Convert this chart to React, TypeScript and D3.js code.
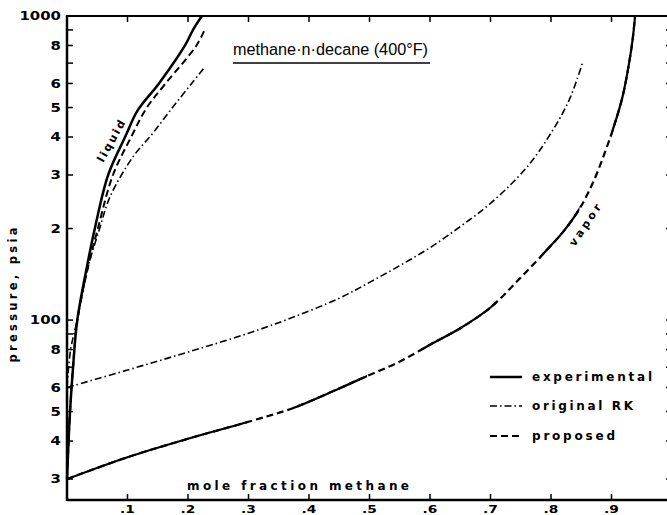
import React from 'react';
import * as d3 from 'd3';

const W = 667;
const H = 515;

// axis ticks
const xTickValues = [0.1, 0.2, 0.3, 0.4, 0.5, 0.6, 0.7, 0.8, 0.9];
const xTickLabels = ['.1', '.2', '.3', '.4', '.5', '.6', '.7', '.8', '.9'];
const yTickValues = [30, 40, 50, 60, 70, 80, 90, 100, 200, 300, 400, 500, 600, 700, 800, 900, 1000];
const yLabelValues = [30, 40, 50, 60, 80, 100, 200, 300, 400, 500, 600, 800, 1000];
const yLabelTexts = ['3', '4', '5', '6', '8', '100', '2', '3', '4', '5', '6', '8', '1000'];

// liquid (bubble point) curves
const liqExpX = [0, 0.005, 0.01, 0.017, 0.033, 0.046, 0.068, 0.096, 0.117, 0.152, 0.195, 0.209, 0.223];
const liqExpP = [30, 50, 70, 100, 150, 200, 300, 400, 490, 600, 800, 906, 1000];
const liqPropX = [0, 0.005, 0.01, 0.017, 0.035, 0.051, 0.076, 0.106, 0.132, 0.163, 0.214, 0.228];
const liqPropP = [30, 50, 70, 100, 150, 200, 300, 400, 500, 600, 800, 906];
const liqRkX = [0, 0.006, 0.017, 0.035, 0.054, 0.071, 0.109, 0.142, 0.175, 0.206, 0.228];
const liqRkP = [60, 80, 100, 150, 200, 254, 344, 412, 502, 600, 680];

// vapor (dew point) curves: experimental & proposed coincide
const vapX = [0, 0.1, 0.2, 0.3, 0.373, 0.45, 0.5, 0.55, 0.6, 0.65, 0.7, 0.75, 0.793, 0.82, 0.847, 0.87, 0.89, 0.905, 0.918, 0.928, 0.935, 0.939];
const vapP = [30, 35.4, 40.7, 46.3, 51.3, 59.6, 66, 73, 83, 94, 110, 138, 170, 195, 232, 285, 360, 440, 540, 680, 840, 1000];
// x-ranges where the experimental (solid) vapor curve is visible
const vapExpRanges: [number, number][] = [[0, 0.3], [0.373, 0.496], [0.583, 0.711], [0.782, 0.847], [0.9, 1]];
const vapRkX = [0, 0.1, 0.2, 0.3, 0.37, 0.45, 0.5, 0.55, 0.6, 0.65, 0.7, 0.76, 0.8, 0.83, 0.852];
const vapRkP = [60, 68.5, 78.5, 90.5, 101.5, 118, 133, 151, 173, 203, 242, 318, 412, 529, 700];

const legendLabels = ['experimental', 'original RK', 'proposed'];

const L = 67, R = 672, T = 16, B = 500;
const x = d3.scaleLinear().domain([0, 1]).range([L, R]);
const y = d3.scaleLog().domain([25.6, 1000]).range([B, T]);

const line = d3
  .line<[number, number]>()
  .x((d) => x(d[0]))
  .y((d) => y(d[1]))
  .curve(d3.curveCatmullRom.alpha(0.5));

const zip = (a: number[], b: number[]) => a.map((v, i) => [v, b[i]] as [number, number]);

const SOLID = { stroke: '#000', fill: 'none', strokeWidth: 2.3, strokeLinecap: 'butt' as const };
const DASH = '7 4';
const DASHDOT = '7 3 1.5 3';
const boldFont = '"DejaVu Sans", Verdana, sans-serif';
const titleFont = '"Liberation Sans", Arial, sans-serif';

export default function App() {
  const legendY = [377, 406, 436];
  const legendDash = [undefined, DASHDOT, DASH];
  const legendW = [2.5, 1.6, 2.2];
  const legendLen = [120, 101, 83];
  return (
    <svg width={W} height={H} style={{ position: 'absolute', left: 0, top: 0, background: '#fff' }}>
      <defs>
        <clipPath id="vapExp">
          {vapExpRanges.map((r, i) => (
            <rect key={i} x={x(r[0])} y={0} width={x(r[1]) - x(r[0])} height={H} />
          ))}
        </clipPath>
      </defs>
      <rect x={0} y={0} width={W} height={H} fill="#fff" />

      {/* frame */}
      <line x1={L} x2={L} y1={T - 1} y2={B + 1} stroke="#000" strokeWidth={2.5} />
      <line x1={L} x2={R} y1={B} y2={B} stroke="#000" strokeWidth={2.5} />
      <line x1={L} x2={R} y1={T} y2={T} stroke="#000" strokeWidth={2} />
      <line x1={R} x2={R} y1={T} y2={B} stroke="#000" strokeWidth={2} />

      {/* x ticks */}
      {xTickValues.map((v, i) => (
        <g key={'xt' + i}>
          <line x1={x(v)} x2={x(v)} y1={B} y2={B - 6} stroke="#000" strokeWidth={1.5} />
          <line x1={x(v)} x2={x(v)} y1={T} y2={T + 6} stroke="#000" strokeWidth={1.5} />
          <g transform={`translate(${x(v)},${513}) scale(1.25,1)`}>
            <text textAnchor="middle" fontFamily={boldFont} fontWeight="bold" fontSize={11}>
              {xTickLabels[i]}
            </text>
          </g>
        </g>
      ))}

      {/* y ticks */}
      {yTickValues.map((v, i) => (
        <g key={'yt' + i}>
          <line x1={L} x2={L + 6} y1={y(v)} y2={y(v)} stroke="#000" strokeWidth={1.5} />
          <line x1={R} x2={R - 6} y1={y(v)} y2={y(v)} stroke="#000" strokeWidth={1.5} />
        </g>
      ))}
      {yLabelValues.map((v, i) => (
        <g key={'yl' + i} transform={`translate(61,${y(v)}) scale(1.3,1)`}>
          <text textAnchor="end" dy="0.36em" fontFamily={boldFont} fontWeight="bold" fontSize={11.5}>
            {yLabelTexts[i]}
          </text>
        </g>
      ))}

      {/* curves */}
      <path d={line(zip(liqExpX, liqExpP)) || ''} {...SOLID} strokeWidth={2.5} />
      <path d={line(zip(liqPropX, liqPropP)) || ''} {...SOLID} strokeWidth={2} strokeDasharray={DASH} />
      <path d={line(zip(liqRkX, liqRkP)) || ''} {...SOLID} strokeWidth={1.6} strokeDasharray={DASHDOT} />
      <path d={line(zip(vapX, vapP)) || ''} {...SOLID} strokeWidth={2.2} strokeDasharray={DASH} />
      <path d={line(zip(vapX, vapP)) || ''} {...SOLID} strokeWidth={2.2} clipPath="url(#vapExp)" />
      <path d={line(zip(vapRkX, vapRkP)) || ''} {...SOLID} strokeWidth={1.6} strokeDasharray={DASHDOT} />

      {/* title */}
      <text x={233} y={55} fontFamily={titleFont} fontSize={16} textLength={195} lengthAdjust="spacingAndGlyphs">
        methane·n·decane (400°F)
      </text>
      <line x1={233} x2={430} y1={63} y2={63} stroke="#000" strokeWidth={1.5} />

      {/* axis titles */}
      <text
        transform="translate(17,295) rotate(-90)"
        textAnchor="middle"
        fontFamily={boldFont}
        fontWeight="bold"
        fontSize={11.5}
        textLength={135}
        lengthAdjust="spacing"
      >
        pressure, psia
      </text>
      <text x={187} y={490} fontFamily={boldFont} fontWeight="bold" fontSize={12} textLength={222} lengthAdjust="spacing">
        mole fraction methane
      </text>

      {/* curve labels */}
      <text
        transform="translate(111,141) rotate(-61)"
        textAnchor="middle"
        dy="0.35em"
        fontFamily={boldFont}
        fontWeight="bold"
        fontSize={11}
        textLength={46}
        lengthAdjust="spacing"
      >
        liquid
      </text>
      <text
        transform="translate(585,225) rotate(-56)"
        textAnchor="middle"
        dy="0.35em"
        fontFamily={boldFont}
        fontWeight="bold"
        fontSize={11}
        textLength={48}
        lengthAdjust="spacing"
      >
        vapor
      </text>

      {/* legend */}
      {legendLabels.map((lab, i) => (
        <g key={'lg' + i}>
          <line
            x1={490}
            x2={522}
            y1={legendY[i]}
            y2={legendY[i]}
            stroke="#000"
            strokeWidth={legendW[i]}
            strokeDasharray={legendDash[i]}
          />
          <text
            x={532}
            y={legendY[i] + 4}
            fontFamily={boldFont}
            fontWeight="bold"
            fontSize={12}
            textLength={legendLen[i]}
            lengthAdjust="spacing"
          >
            {lab}
          </text>
        </g>
      ))}
    </svg>
  );
}
